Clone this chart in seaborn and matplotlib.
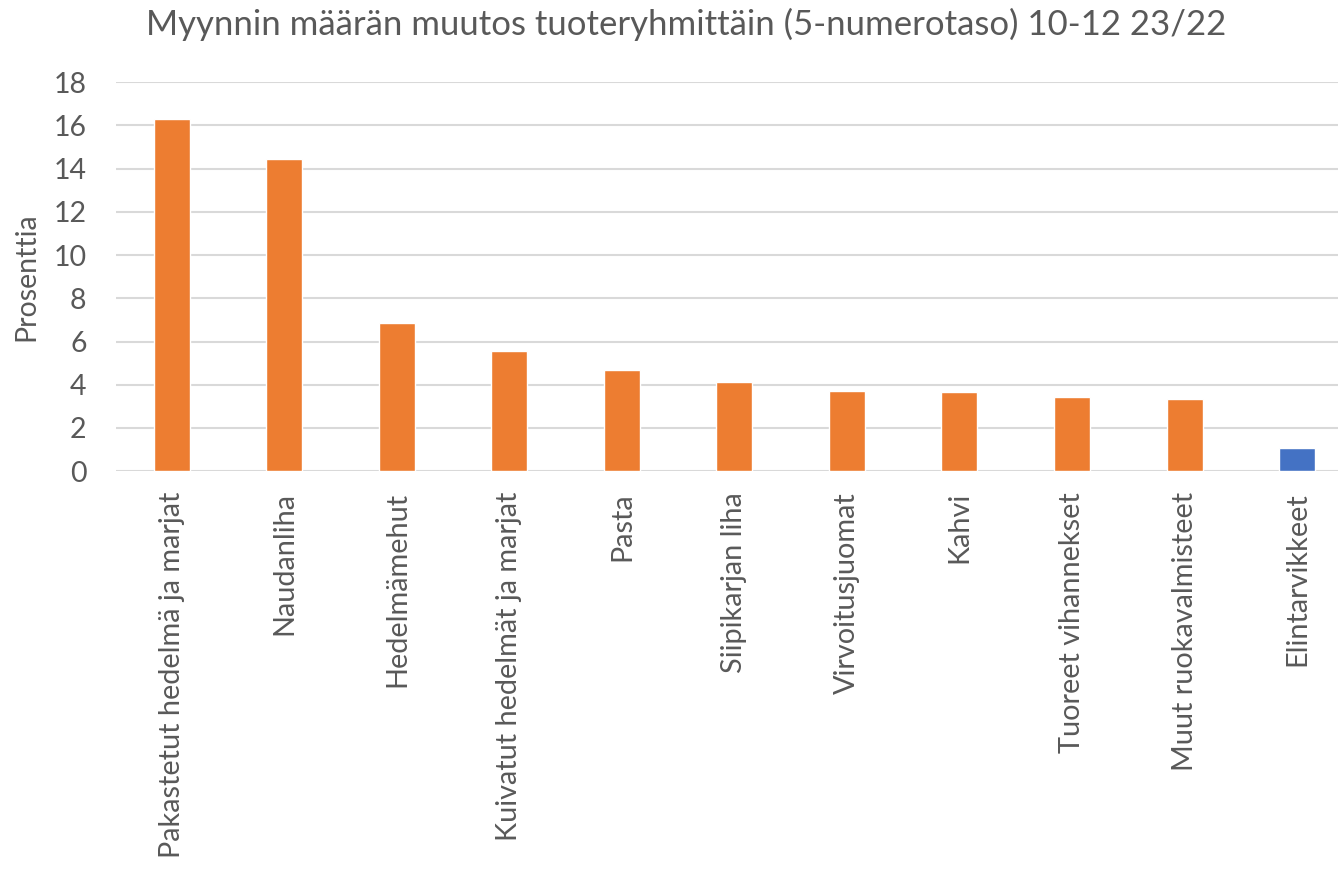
import matplotlib
matplotlib.use("Agg")
import matplotlib.pyplot as plt
import seaborn as sns

# Data
categories = [
    "Pakastetut hedelmä ja marjat",
    "Naudanliha",
    "Hedelmämehut",
    "Kuivatut hedelmät ja marjat",
    "Pasta",
    "Siipikarjan liha",
    "Virvoitusjuomat",
    "Kahvi",
    "Tuoreet vihannekset",
    "Muut ruokavalmisteet",
    "Elintarvikkeet",
]
values = [16.3, 14.45, 6.87, 5.55, 4.7, 4.12, 3.7, 3.66, 3.43, 3.33, 1.09]
bar_colors = ["#ED7D31"] * 10 + ["#4472C4"]
y_ticks = [0, 2, 4, 6, 8, 10, 12, 14, 16, 18]

sns.set_style("white")
plt.rcParams["font.family"] = ["Lato", "DejaVu Sans"]
text_color = "#595959"

fig = plt.figure(figsize=(13.38, 8.75), dpi=100)
# plot area runs slightly past the right edge, as in the original
ax = fig.add_axes([0.0865, 0.4615, 0.9249, 0.4445])

sns.barplot(x=categories, y=values, hue=categories, palette=bar_colors,
            legend=False, width=0.32, saturation=1, ax=ax)

ax.set_ylim(0, 18)
ax.set_xlim(-0.5, len(categories) - 0.5)
ax.set_yticks(y_ticks)
ax.set_yticklabels([str(t) for t in y_ticks], fontsize=20.5, color=text_color)
ax.tick_params(axis="y", length=0, pad=21)
ax.tick_params(axis="x", length=0, pad=15)
plt.setp(ax.get_xticklabels(), rotation=90, fontsize=20.8, color=text_color)

ax.yaxis.grid(True, color="#D9D9D9", linewidth=1.5)
ax.set_axisbelow(True)
for s in ax.spines.values():
    s.set_visible(False)

ax.set_ylabel("Prosenttia", fontsize=20.5, color=text_color, labelpad=10)
ax.set_xlabel("")
fig.text(0.513, 0.972, "Myynnin määrän muutos tuoteryhmittäin (5-numerotaso) 10-12 23/22",
         ha="center", va="center", fontsize=25, color=text_color)

plt.savefig("out.png", dpi=100)
plt.close()
